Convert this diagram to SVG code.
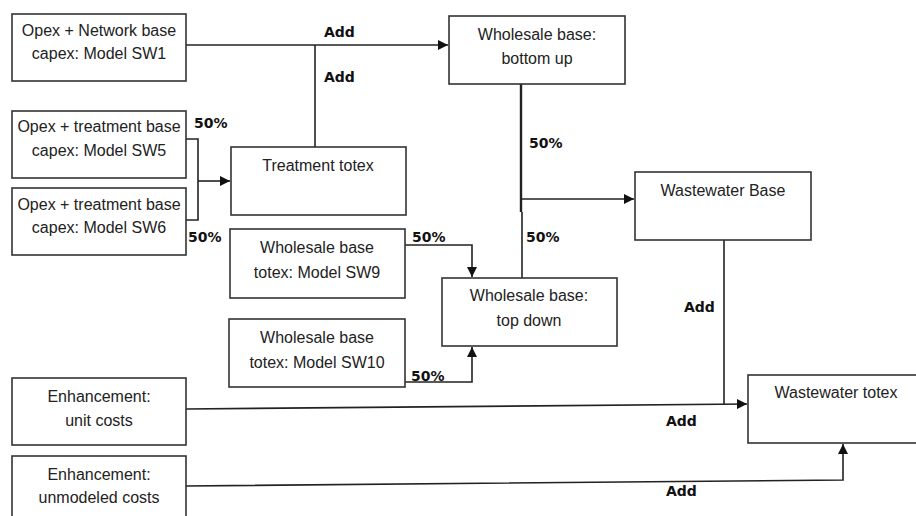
<svg xmlns="http://www.w3.org/2000/svg" width="916" height="516" viewBox="0 0 916 516">
<style>
.box{fill:#fff;stroke:#333;stroke-width:1.6}
.t{font-family:"Liberation Sans",Arial,sans-serif;font-size:16px;fill:#222;text-anchor:middle}
.lbl{font-family:"DejaVu Sans",Verdana,sans-serif;font-size:14px;font-weight:bold;fill:#111}
.c{fill:none;stroke:#222;stroke-width:1.6}
</style>
<defs>
<marker id="ah" viewBox="0 0 10 10" refX="10" refY="5" markerWidth="10" markerHeight="10" markerUnits="userSpaceOnUse" orient="auto">
<path d="M0,0 L10,5 L0,10 z" fill="#111"/>
</marker>
</defs>
<rect width="916" height="516" fill="#fff"/>
<g id="connectors">
<path class="c" d="M186,45 H448" marker-end="url(#ah)"/>
<path class="c" d="M315,45 V147"/>
<path class="c" d="M186,139 H198 V220 H186"/>
<path class="c" d="M198,181 H230" marker-end="url(#ah)"/>
<path class="c" d="M521,84 V212" style="stroke-width:2.4"/>
<path class="c" d="M521,199 H634" marker-end="url(#ah)"/>
<path class="c" d="M522,212 V278"/>
<path class="c" d="M405,245 H472 V277" marker-end="url(#ah)"/>
<path class="c" d="M405,382 H472 V347" marker-end="url(#ah)"/>
<path class="c" d="M724,240 V404"/>
<path class="c" d="M186,409 L747,404" marker-end="url(#ah)"/>
<path class="c" d="M186,486 L843,480 V444" marker-end="url(#ah)"/>
</g>
<g id="labels">
<text class="lbl" x="324" y="37">Add</text>
<text class="lbl" x="324" y="82">Add</text>
<text class="lbl" x="194" y="128">50%</text>
<text class="lbl" x="188" y="242">50%</text>
<text class="lbl" x="412" y="242">50%</text>
<text class="lbl" x="411" y="381">50%</text>
<text class="lbl" x="529" y="148">50%</text>
<text class="lbl" x="526" y="242">50%</text>
<text class="lbl" x="684" y="312">Add</text>
<text class="lbl" x="666" y="426">Add</text>
<text class="lbl" x="666" y="496">Add</text>
</g>
<g id="sw1">
<rect class="box" x="12" y="14" width="174" height="67"/>
<text class="t" x="99" y="36">Opex + Network base</text>
<text class="t" x="99" y="59">capex: Model SW1</text>
</g>
<g id="sw5">
<rect class="box" x="12" y="111" width="174" height="67"/>
<text class="t" x="99" y="132">Opex + treatment base</text>
<text class="t" x="99" y="156">capex: Model SW5</text>
</g>
<g id="sw6">
<rect class="box" x="12" y="188" width="174" height="67"/>
<text class="t" x="99" y="210">Opex + treatment base</text>
<text class="t" x="99" y="233">capex: Model SW6</text>
</g>
<g id="treatment">
<rect class="box" x="231" y="147" width="175" height="68"/>
<text class="t" x="318" y="171">Treatment totex</text>
</g>
<g id="sw9">
<rect class="box" x="230" y="229" width="175" height="69"/>
<text class="t" x="317" y="253">Wholesale base</text>
<text class="t" x="317" y="278">totex: Model SW9</text>
</g>
<g id="sw10">
<rect class="box" x="229" y="319" width="176" height="68"/>
<text class="t" x="317" y="343">Wholesale base</text>
<text class="t" x="317" y="368">totex: Model SW10</text>
</g>
<g id="enh-unit">
<rect class="box" x="12" y="378" width="174" height="67"/>
<text class="t" x="99" y="402">Enhancement:</text>
<text class="t" x="99" y="426">unit costs</text>
</g>
<g id="enh-unmod">
<rect class="box" x="12" y="456" width="174" height="70"/>
<text class="t" x="99" y="480">Enhancement:</text>
<text class="t" x="99" y="503">unmodeled costs</text>
</g>
<g id="bottom-up">
<rect class="box" x="449" y="16" width="176" height="68"/>
<text class="t" x="537" y="40">Wholesale base:</text>
<text class="t" x="537" y="64">bottom up</text>
</g>
<g id="top-down">
<rect class="box" x="442" y="278" width="175" height="68"/>
<text class="t" x="529" y="301">Wholesale base:</text>
<text class="t" x="529" y="326">top down</text>
</g>
<g id="ww-base">
<rect class="box" x="635" y="172" width="176" height="68"/>
<text class="t" x="723" y="196">Wastewater Base</text>
</g>
<g id="ww-totex">
<rect class="box" x="748" y="375" width="170" height="68"/>
<text class="t" x="836" y="398">Wastewater totex</text>
</g>
</svg>
